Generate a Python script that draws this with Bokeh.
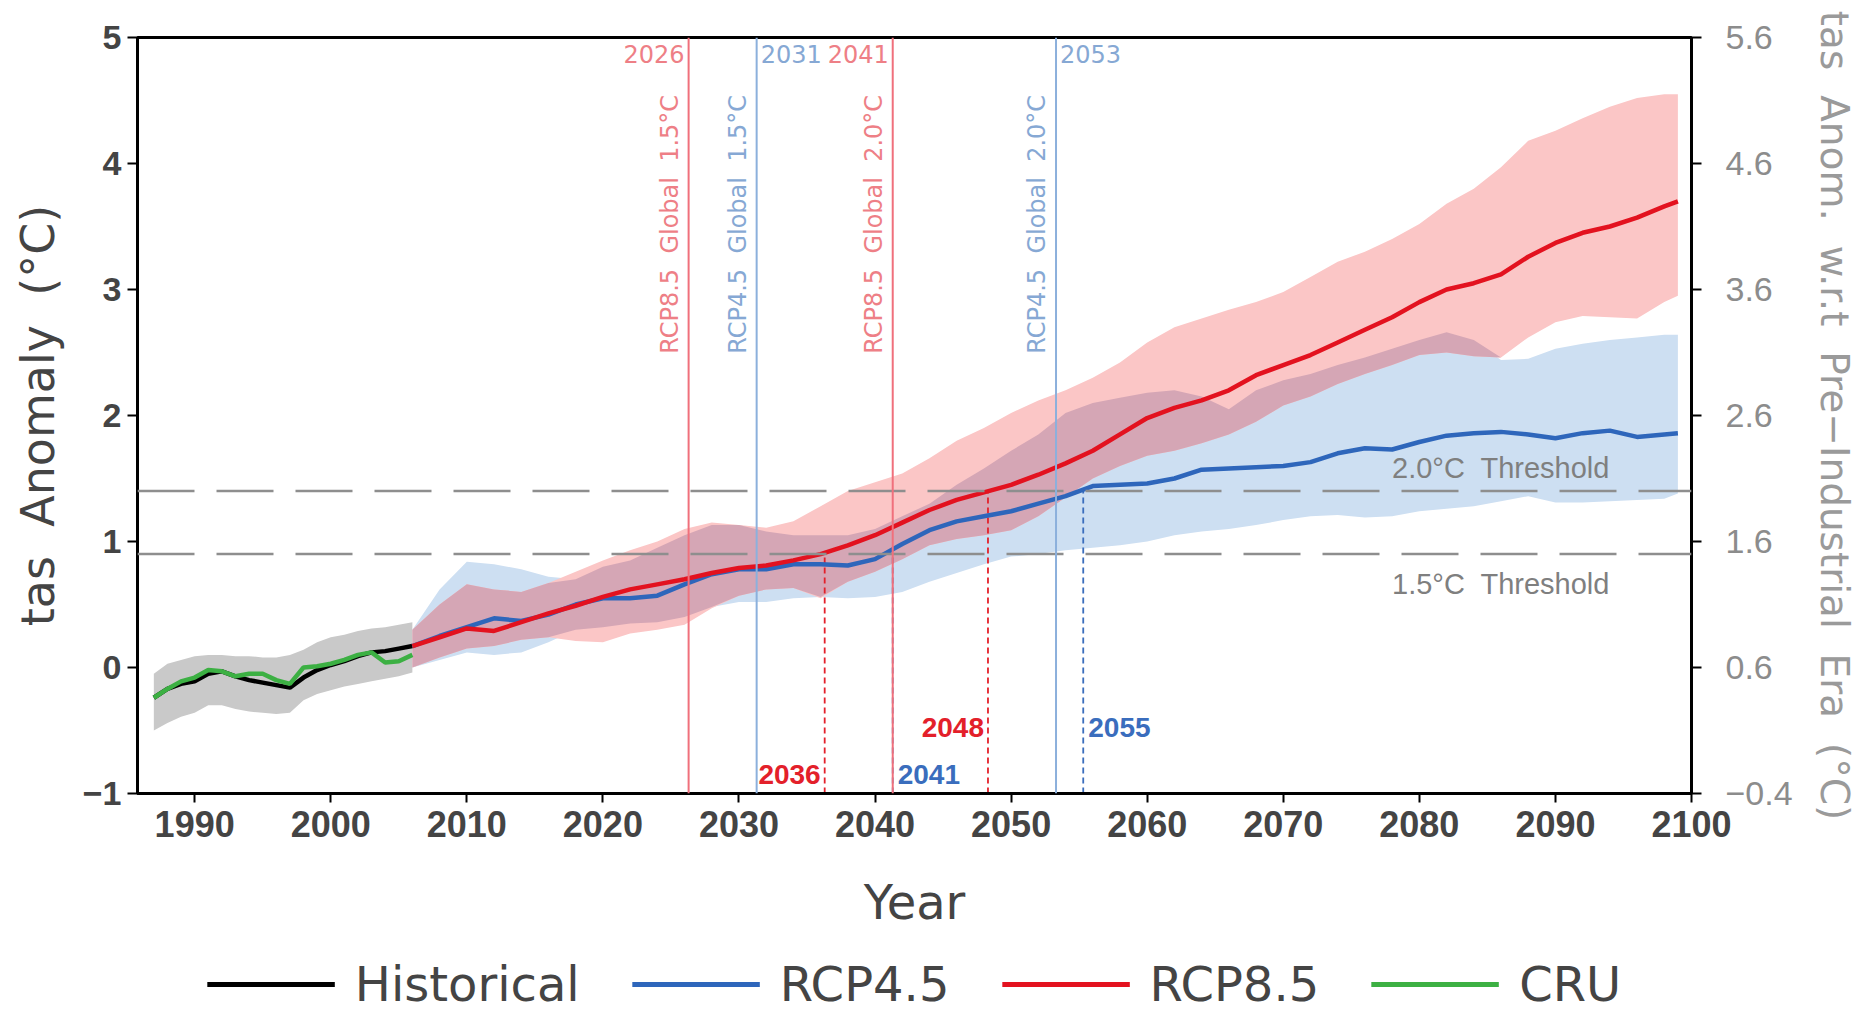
import math
from bokeh.plotting import figure
from bokeh.layouts import column
from bokeh.models import Range1d, FixedTicker, LinearAxis, Legend, LegendItem, Span
from bokeh.core.properties import value
from bokeh.embed import file_html
from bokeh.resources import INLINE

# ---------------- data ----------------
hist_years = list(range(1987, 2007))
hist_mean = [-0.24, -0.17, -0.13, -0.11, -0.05, -0.03, -0.07, -0.10, -0.12, -0.14,
             -0.16, -0.08, -0.02, 0.02, 0.05, 0.09, 0.12, 0.13, 0.15, 0.17]
hist_upper = [-0.05, 0.03, 0.06, 0.09, 0.10, 0.10, 0.09, 0.09, 0.08, 0.08,
              0.10, 0.14, 0.20, 0.24, 0.26, 0.29, 0.31, 0.32, 0.34, 0.36]
hist_lower = [-0.50, -0.44, -0.39, -0.36, -0.30, -0.30, -0.33, -0.35, -0.36, -0.37,
              -0.36, -0.26, -0.21, -0.18, -0.15, -0.13, -0.11, -0.09, -0.07, -0.04]
cru_mean = [-0.24, -0.17, -0.11, -0.08, -0.02, -0.03, -0.07, -0.05, -0.05, -0.10,
            -0.13, 0.00, 0.01, 0.03, 0.06, 0.10, 0.12, 0.04, 0.05, 0.10]

rcp_years = list(range(2006, 2099, 2)) + [2099]
rcp45_mean = [0.17, 0.25, 0.32, 0.39, 0.37, 0.42, 0.50, 0.55, 0.55, 0.57,
              0.66, 0.74, 0.78, 0.78, 0.82, 0.82, 0.81, 0.86, 0.98, 1.09,
              1.16, 1.20, 1.24, 1.30, 1.36, 1.44, 1.45, 1.46, 1.50, 1.57,
              1.58, 1.59, 1.60, 1.63, 1.70, 1.74, 1.73, 1.79, 1.84, 1.86,
              1.87, 1.85, 1.82, 1.86, 1.88, 1.83, 1.85, 1.86]
rcp45_upper = [0.30, 0.62, 0.84, 0.82, 0.78, 0.72, 0.70, 0.80, 0.85, 0.95,
               1.05, 1.13, 1.13, 1.08, 1.05, 1.05, 1.05, 1.10, 1.20, 1.30,
               1.45, 1.58, 1.72, 1.85, 2.02, 2.10, 2.14, 2.18, 2.20, 2.15,
               2.05, 2.20, 2.28, 2.33, 2.40, 2.46, 2.53, 2.60, 2.66, 2.60,
               2.44, 2.45, 2.53, 2.57, 2.60, 2.62, 2.64, 2.64]
rcp45_lower = [0.00, 0.06, 0.12, 0.10, 0.12, 0.20, 0.30, 0.32, 0.35, 0.36,
               0.40, 0.48, 0.52, 0.52, 0.55, 0.56, 0.55, 0.56, 0.60, 0.68,
               0.75, 0.82, 0.88, 0.90, 0.93, 0.95, 0.97, 1.00, 1.05, 1.08,
               1.10, 1.13, 1.17, 1.20, 1.21, 1.19, 1.20, 1.24, 1.26, 1.28,
               1.32, 1.36, 1.31, 1.31, 1.32, 1.33, 1.34, 1.38]
rcp85_mean = [0.17, 0.24, 0.31, 0.29, 0.36, 0.43, 0.49, 0.56, 0.62, 0.66,
              0.70, 0.75, 0.79, 0.81, 0.85, 0.90, 0.97, 1.05, 1.15, 1.25,
              1.33, 1.39, 1.45, 1.53, 1.62, 1.72, 1.85, 1.98, 2.06, 2.12,
              2.20, 2.32, 2.40, 2.48, 2.58, 2.68, 2.78, 2.90, 3.00, 3.05,
              3.12, 3.26, 3.37, 3.45, 3.50, 3.57, 3.66, 3.70]
rcp85_upper = [0.30, 0.50, 0.66, 0.62, 0.60, 0.67, 0.76, 0.85, 0.93, 1.00,
               1.10, 1.15, 1.13, 1.11, 1.16, 1.28, 1.40, 1.47, 1.54, 1.66,
               1.80, 1.90, 2.02, 2.12, 2.20, 2.30, 2.42, 2.58, 2.70, 2.77,
               2.84, 2.90, 2.98, 3.10, 3.22, 3.30, 3.40, 3.52, 3.68, 3.80,
               3.97, 4.18, 4.26, 4.36, 4.45, 4.52, 4.55, 4.55]
rcp85_lower = [0.00, 0.08, 0.15, 0.17, 0.22, 0.24, 0.21, 0.20, 0.27, 0.30,
               0.34, 0.47, 0.57, 0.62, 0.63, 0.55, 0.68, 0.76, 0.86, 0.97,
               1.02, 1.05, 1.09, 1.20, 1.35, 1.50, 1.60, 1.68, 1.72, 1.78,
               1.85, 1.95, 2.08, 2.15, 2.25, 2.33, 2.40, 2.48, 2.50, 2.47,
               2.46, 2.62, 2.74, 2.79, 2.78, 2.77, 2.90, 2.95]

threshold_values = [0.9, 1.4]
threshold_labels = ["1.5°C  Threshold", "2.0°C  Threshold"]

global_years = [2026, 2031, 2041, 2053]
global_scen = ["RCP8.5", "RCP4.5", "RCP8.5", "RCP4.5"]
global_level = ["1.5°C", "1.5°C", "2.0°C", "2.0°C"]

local_years = [2036, 2041, 2048, 2055]
local_scen = ["RCP8.5", "RCP4.5", "RCP8.5", "RCP4.5"]
local_thresh = [0.9, 0.9, 1.4, 1.4]

x_ticks = list(range(1990, 2101, 10))
y_ticks = [-1, 0, 1, 2, 3, 4, 5]
y_tick_labels = ["\u22121", "0", "1", "2", "3", "4", "5"]
right_tick_labels = ["\u22120.4", "0.6", "1.6", "2.6", "3.6", "4.6", "5.6"]

left_title = "tas  Anomaly  (°C)"
right_title = "tas  Anom.  w.r.t  Pre\u2212Industrial  Era  (°C)"
x_title = "Year"
legend_names = ["Historical", "RCP4.5", "RCP8.5", "CRU"]


def keep_spaces(s):
    # SVG collapses runs of blanks; keep the wide spacing of the original
    return s.replace("  ", "\u00a0 ")


# ---------------- styles ----------------
TICKF = "Liberation Sans"
GEOF = "DejaVu Sans"
RED = "#e3121f"
BLUE = "#2e66bb"
GREEN = "#3cb043"
LINE_COL = {"Historical": "black", "RCP4.5": BLUE, "RCP8.5": RED, "CRU": GREEN}
LIGHT = {"RCP8.5": "#f0707c", "RCP4.5": "#8cb0dc"}
LIGHT_TXT = {"RCP8.5": "#ee7f86", "RCP4.5": "#86a8d4"}
DARK = {"RCP8.5": "#e3202a", "RCP4.5": "#3a6dbd"}
SHIFT = 0.3  # crossing lines are drawn at mid-year

p = figure(frame_width=1554, frame_height=756,
           x_range=Range1d(1985.8, 2100), y_range=Range1d(-1, 5),
           output_backend="svg", toolbar_location=None,
           min_border_left=137, min_border_top=37, min_border_right=173, min_border_bottom=160,
           background_fill_color="white", border_fill_color="white")
p.xgrid.visible = False
p.ygrid.visible = False
p.outline_line_color = "black"
p.outline_line_width = 3

xa = p.xaxis[0]
xa.ticker = FixedTicker(ticks=x_ticks)
xa.axis_line_width = 3
xa.major_tick_line_width = 2
xa.major_tick_out = 9
xa.major_tick_in = 0
xa.minor_tick_line_color = None
xa.major_label_text_font = TICKF
xa.major_label_text_font_size = "36px"
xa.major_label_text_font_style = "bold"
xa.major_label_standoff = 8
xa.axis_label = x_title
xa.axis_label_text_font = GEOF
xa.axis_label_text_font_size = "48px"
xa.axis_label_text_font_style = "normal"
xa.axis_label_standoff = 34

ya = p.yaxis[0]
ya.ticker = FixedTicker(ticks=y_ticks)
ya.major_label_overrides = {t: s for t, s in zip(y_ticks, y_tick_labels)}
ya.axis_line_width = 3
ya.major_tick_line_width = 2
ya.major_tick_out = 10
ya.major_tick_in = 0
ya.minor_tick_line_color = None
ya.major_label_text_font = TICKF
ya.major_label_text_font_size = "34px"
ya.major_label_text_font_style = "bold"
ya.major_label_standoff = 6
ya.axis_label = keep_spaces(left_title)
ya.axis_label_text_font = GEOF
ya.axis_label_text_font_size = "46px"
ya.axis_label_text_font_style = "normal"
ya.axis_label_standoff = 15

ra = LinearAxis(ticker=FixedTicker(ticks=y_ticks))
ra.major_label_overrides = {t: s for t, s in zip(y_ticks, right_tick_labels)}
ra.axis_line_width = 3
ra.major_tick_line_width = 2
ra.major_tick_out = 10
ra.major_tick_in = 0
ra.minor_tick_line_color = None
ra.major_label_text_font = TICKF
ra.major_label_text_font_size = "34px"
ra.major_label_text_color = "#8c8c8c"
ra.major_label_standoff = 24
ra.axis_label = keep_spaces(right_title)
ra.axis_label_text_font = GEOF
ra.axis_label_text_font_size = "39px"
ra.axis_label_text_font_style = "normal"
ra.axis_label_text_color = "#9a9a9a"
ra.axis_label_standoff = 16
p.add_layout(ra, "right")

# bands (overlap of the two scenario ranges drawn in its own tint)
ov_lo = [max(a, b) for a, b in zip(rcp45_lower, rcp85_lower)]
ov_hi = [max(lo, min(a, b)) for lo, a, b in zip(ov_lo, rcp45_upper, rcp85_upper)]
p.varea(x=hist_years, y1=hist_lower, y2=hist_upper, fill_color="#c9c9c9")
p.varea(x=rcp_years, y1=rcp45_lower, y2=rcp45_upper, fill_color="#cddff2")
p.varea(x=rcp_years, y1=rcp85_lower, y2=rcp85_upper, fill_color="#fbc6c6")
p.varea(x=rcp_years, y1=ov_lo, y2=ov_hi, fill_color="#d5a6b5")

# thresholds
for v in threshold_values:
    p.add_layout(Span(location=v, dimension="width", line_color="#8e8e8e",
                      line_width=2.5, line_dash="57 22"))

# global crossing (solid vertical)
for yr, sc in zip(global_years, global_scen):
    p.add_layout(Span(location=yr + SHIFT, dimension="height",
                      line_color=LIGHT[sc], line_width=2))

# local crossing (dashed vertical)
ymin = p.y_range.start
for sc in ("RCP8.5", "RCP4.5"):
    xs = [yr + SHIFT for yr, s in zip(local_years, local_scen) if s == sc]
    ys = [t for t, s in zip(local_thresh, local_scen) if s == sc]
    p.segment(x0=xs, y0=[ymin] * len(xs), x1=xs, y1=ys,
              line_color=DARK[sc], line_width=1.8, line_dash="6 4")

# lines
series = {"Historical": (hist_years, hist_mean), "CRU": (hist_years, cru_mean),
          "RCP4.5": (rcp_years, rcp45_mean), "RCP8.5": (rcp_years, rcp85_mean)}
for name in ("Historical", "CRU", "RCP4.5", "RCP8.5"):
    xs, ys = series[name]
    p.line(xs, ys, line_color=LINE_COL[name], line_width=4.5)

# top year labels + rotated labels
for sc, align, off in (("RCP8.5", "right", -4), ("RCP4.5", "left", 4)):
    xs = [yr + SHIFT for yr, s in zip(global_years, global_scen) if s == sc]
    txt = [str(yr) for yr, s in zip(global_years, global_scen) if s == sc]
    lev = [keep_spaces(f"{sc}  Global  {lv}") for lv, s in zip(global_level, global_scen) if s == sc]
    p.text(x=xs, y=[4.87] * len(xs), text=txt, text_align=align, text_baseline="middle",
           x_offset=off, text_font=value(GEOF), text_font_size="24px", text_color=LIGHT_TXT[sc])
    p.text(x=xs, y=[2.49] * len(xs), text=lev, angle=math.pi / 2, text_align="left",
           text_baseline="bottom", x_offset=-5, text_font=value(GEOF),
           text_font_size="24px", text_color=LIGHT_TXT[sc])

# local crossing labels
label_y = {0.9: -0.85, 1.4: -0.48}
for sc, align, off in (("RCP8.5", "right", -4), ("RCP4.5", "left", 5)):
    xs = [yr + SHIFT for yr, s in zip(local_years, local_scen) if s == sc]
    ys = [label_y[t] for t, s in zip(local_thresh, local_scen) if s == sc]
    txt = [str(yr) for yr, s in zip(local_years, local_scen) if s == sc]
    p.text(x=xs, y=ys, text=txt, text_align=align, text_baseline="middle", x_offset=off,
           text_font=value(TICKF), text_font_size="28px", text_font_style="bold",
           text_color=DARK[sc])

# threshold labels
p.text(x=[2086.0, 2086.0], y=[threshold_values[0] - 0.24, threshold_values[1] + 0.18],
       text=[keep_spaces(t) for t in threshold_labels], text_align="center",
       text_baseline="middle", text_font=value(TICKF), text_font_size="29px",
       text_color="#7f7f7f")

# ---------------- legend strip below the chart ----------------
# the series are repeated here outside the visible range, only to feed the legend swatches
lg = figure(width=1864, height=62, x_range=Range1d(0, 1), y_range=Range1d(0, 1),
            output_backend="svg", toolbar_location=None,
            x_axis_location=None, y_axis_location=None,
            min_border_left=0, min_border_right=24, min_border_top=0, min_border_bottom=0,
            outline_line_color=None, background_fill_color="white", border_fill_color="white")
lg.xgrid.visible = False
lg.ygrid.visible = False
items = []
for name in legend_names:
    xs, ys = series[name]
    r = lg.line(xs, ys, line_color=LINE_COL[name], line_width=5)
    items.append(LegendItem(label=name, renderers=[r]))
legend = Legend(items=items, orientation="horizontal", location="center",
                label_text_font=GEOF, label_text_font_size="48px",
                glyph_width=128, glyph_height=40, label_standoff=20, spacing=52,
                border_line_alpha=0, background_fill_alpha=0, padding=0, margin=0)
lg.add_layout(legend, "center")

layout = column(p, lg, spacing=0)
open("out.html", "w").write(file_html(layout, INLINE))
